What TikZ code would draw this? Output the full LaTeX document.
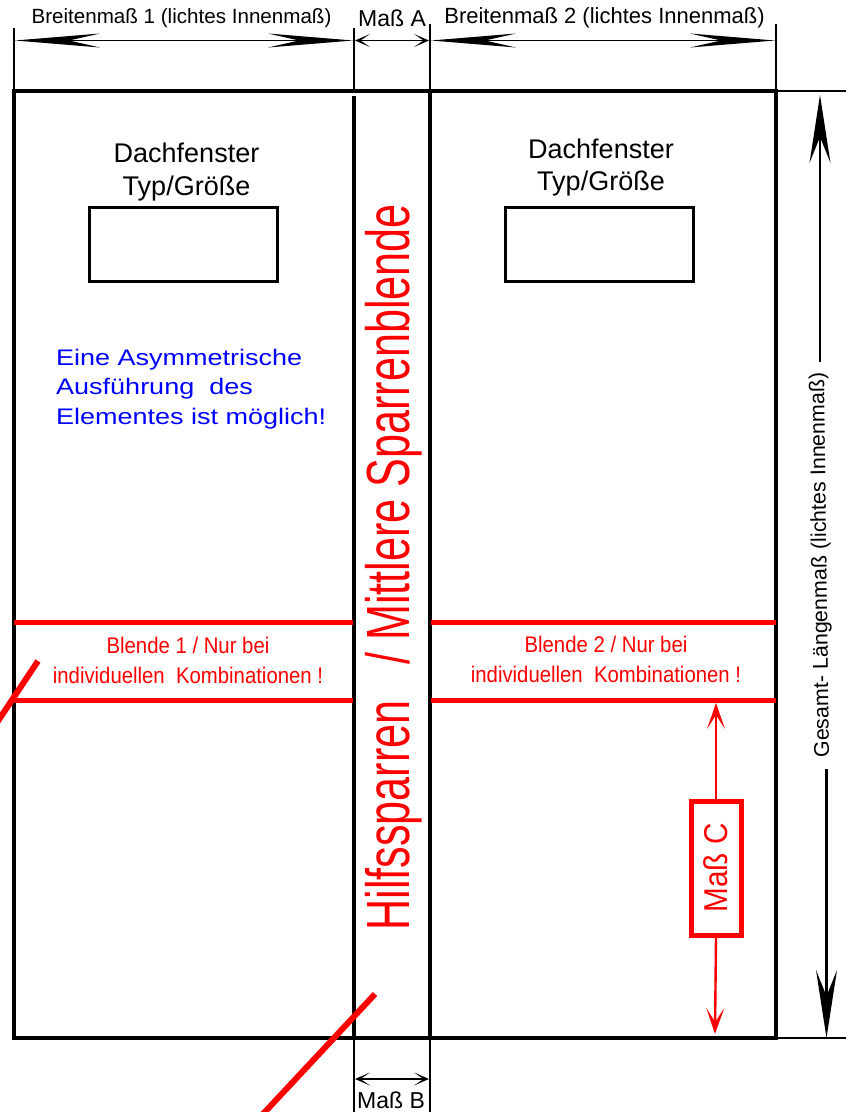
\documentclass[tikz,border=0pt]{standalone}
\usepackage{fontspec}
\setmainfont{Liberation Sans}
\newfontfamily\condfont[FakeStretch=0.9]{Liberation Sans}
\newfontfamily\midfont[FakeStretch=0.707]{Liberation Sans}
\newfontfamily\widefont[FakeStretch=1.2]{Liberation Sans}
\usetikzlibrary{calc,arrows.meta,positioning}
\newcommand{\fsz}[1]{\fontsize{#1}{#1}\selectfont}
\tikzset{
  thinl/.style={line width=1.4pt},
  framel/.style={line width=4.8pt},
  redl/.style={red,line width=5pt},
  longdim/.style={line width=1.9pt,{Stealth[length=85pt,width=14pt,inset=31pt,line width=0pt]}-{Stealth[length=85pt,width=14pt,inset=31pt,line width=0pt]}},
  smalldim/.style={line width=1.6pt,{Stealth[length=15pt,width=13pt,inset=9.5pt,line width=0pt]}-{Stealth[length=15pt,width=13pt,inset=9.5pt,line width=0pt]}},
  vertdim/.style={line width=2.4pt,-{Stealth[length=68pt,width=21pt,inset=26pt,line width=0pt]}},
  reddim/.style={red,line width=2.4pt,-{Stealth[length=26pt,width=18pt,inset=14pt,line width=0pt]}},
  window/.style={draw,line width=3pt,minimum width=188pt,minimum height=74pt,inner sep=0pt},
}
\begin{document}
\begin{tikzpicture}[x=1pt,y=-1pt]
\useasboundingbox[clip] (0,0) rectangle (853,1112);
% frame
\coordinate (tl) at (14,91);
\coordinate (tr) at (776,91);
\coordinate (bl) at (14,1038);
\coordinate (br) at (776,1038);
\coordinate (m1t) at (354,91);
\coordinate (m1s) at (354,96);
\coordinate (m1b) at (354,1038);
\coordinate (m2t) at (430,91);
\coordinate (m2b) at (430,1038);
\draw[framel,line cap=rect] (tl) -- (tr) -- (br) -- (bl) -- cycle;
\draw[line width=4.4pt] (m1s) -- (m1b);
\draw[line width=4.8pt] (m2t) -- (m2b);
% extension lines
\coordinate (e1) at (14,28);
\coordinate (e2) at (354,28);
\coordinate (e3) at (430,24);
\coordinate (e4) at (776,24);
\coordinate (e5) at (846,91);
\coordinate (e6) at (846,1038);
\coordinate (e7) at (354,1112);
\coordinate (e8) at (430,1112);
\draw[thinl] (e1) -- (tl);
\draw[thinl] (e2) -- (m1t);
\draw[thinl] (e3) -- (m2t);
\draw[thinl] (e4) -- (tr);
\draw[thinl] (tr) -- (e5);
\draw[thinl] (br) -- (e6);
\draw[thinl] (m1b) -- (e7);
\draw[thinl] (m2b) -- (e8);
% upper dimensions
\coordinate (a1) at (15,40.5);
\coordinate (a2) at (353,40.5);
\coordinate (a3) at (355,40.5);
\coordinate (a4) at (429,40.5);
\coordinate (a5) at (431,40.5);
\coordinate (a6) at (775,40.5);
\draw[longdim] (a1) -- (a2);
\draw[smalldim] (a3) -- (a4);
\draw[longdim] (a5) -- (a6);
\node (b1) at (181.5,18) {\fsz{20.6}Breitenmaß 1 (lichtes Innenmaß)};
\node (b2) at (392,18.5) {\fsz{23}Maß A};
\node (b3) at (604.5,17.5) {\fsz{22}Breitenmaß 2 (lichtes Innenmaß)};
% lower dimension
\coordinate (a7) at (355,1079);
\coordinate (a8) at (429,1079);
\draw[smalldim] (a7) -- (a8);
\node (b4) at (391,1100.5) {\fsz{23}Maß B};
% right dimension
\node[rotate=90.75] (g) at (821,565) {\fsz{21.4}Gesamt- Längenmaß (lichtes Innenmaß)};
\coordinate (v1) at (820,362);
\coordinate (v2) at (820,95);
\coordinate (v3) at (826.5,769);
\coordinate (v4) at (826.5,1038);
\draw[vertdim] (v1) -- (v2);
\draw[vertdim] (v3) -- (v4);
% windows
\node[window] (w1) at (183.5,244.5) {};
\node[window] (w2) at (599.5,244.5) {};
\node (d1) at (186.5,153) {\fsz{27}Dachfenster};
\node (d2) at (186.5,188.5) {\fsz{27}Typ/Größe};
\node (d3) at (601,149) {\fsz{27}Dachfenster};
\node (d4) at (601,183.5) {\fsz{27}Typ/Größe};
\node[text=blue,anchor=west,inner sep=0pt] (t1) at (56,360) {\fsz{22.5}\widefont Eine Asymmetrische};
\node[text=blue,anchor=west,inner sep=0pt] (t2) at (56,389) {\fsz{22.5}\widefont Ausführung\ \ des};
\node[text=blue,anchor=west,inner sep=0pt] (t3) at (56,419) {\fsz{22.5}\widefont Elementes ist möglich!};
% panels
\coordinate (r1) at (14,622);
\coordinate (r2) at (353,622);
\coordinate (r3) at (14,700);
\coordinate (r4) at (353,700);
\coordinate (r5) at (431,622);
\coordinate (r6) at (776,622);
\coordinate (r7) at (431,700);
\coordinate (r8) at (776,700);
\draw[redl] (r1) -- (r2);
\draw[redl] (r3) -- (r4);
\draw[redl] (r5) -- (r6);
\draw[redl] (r7) -- (r8);
\node[text=red] (p1) at (188,645) {\fsz{22.6}\condfont Blende 1 / Nur bei};
\node[text=red] (p2) at (188,675) {\fsz{22.6}\condfont individuellen\ \ Kombinationen !};
\node[text=red] (p3) at (606,644) {\fsz{22.6}\condfont Blende 2 / Nur bei};
\node[text=red] (p4) at (606,674) {\fsz{22.6}\condfont individuellen\ \ Kombinationen !};
% centre label
\node[text=red,rotate=90] (h) at (393.5,567.5) {\fsz{61}\midfont Hilfssparren\ \ \ / Mittlere Sparrenblende};
% Mass C
\node[draw=red,text=red,line width=5pt,rotate=90,minimum width=134pt,minimum height=50pt,inner sep=0pt] (c) at (716,868) {\fsz{33}\condfont Maß C};
\coordinate (c1) at (716,703);
\coordinate (c2) at (715,1034);
\draw[reddim] (c.east) -- (c1);
\draw[reddim] (c.west) -- (c2);
% strokes
\coordinate (s1) at (38,661);
\coordinate (s2) at (-6,727);
\coordinate (s3) at (375,994);
\coordinate (s4) at (263,1114);
\draw[red,line width=6pt] (s1) -- (s2);
\draw[red,line width=6pt] (s3) -- (s4);
\end{tikzpicture}
\end{document}
